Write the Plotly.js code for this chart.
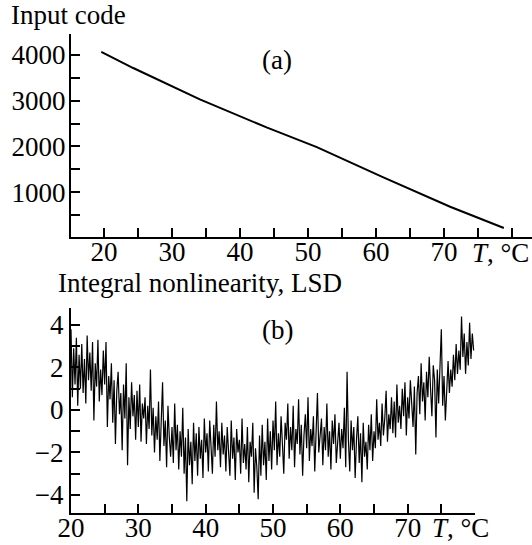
<!DOCTYPE html>
<html>
<head>
<meta charset="utf-8">
<script src="https://cdn.plot.ly/plotly-3.0.1.min.js"></script>
<style>html,body{margin:0;padding:0;background:#fff;}</style>
</head>
<body>
<div id="chart" style="width:532px;height:545px;"></div>
<script>
// (a) input code vs temperature
const tempA = [19.6, 24.3, 34.1, 44.0, 51.3, 61.0, 70.9, 78.8];
const inputCode = [4070, 3715, 3030, 2410, 1985, 1330, 680, 215];

// (b) integral nonlinearity (LSD) vs temperature
const tempB = [
20.0,20.2,20.4,20.6,20.8,21.0,21.2,21.4,21.6,21.8,22.0,22.2,22.4,22.6,22.8,23.0,23.2,23.4,23.6,23.8,
24.0,24.2,24.4,24.6,24.8,25.0,25.2,25.4,25.6,25.8,26.0,26.2,26.4,26.6,26.8,27.0,27.2,27.4,27.6,27.8,
28.0,28.2,28.4,28.6,28.8,29.0,29.2,29.4,29.6,29.8,30.0,30.2,30.4,30.6,30.8,31.0,31.2,31.4,31.6,31.8,
32.0,32.2,32.4,32.6,32.8,33.0,33.2,33.4,33.6,33.8,34.0,34.2,34.4,34.6,34.8,35.0,35.2,35.4,35.6,35.8,
36.0,36.2,36.4,36.6,36.8,37.0,37.2,37.4,37.6,37.8,38.0,38.2,38.4,38.6,38.8,39.0,39.2,39.4,39.6,39.8,
40.0,40.2,40.4,40.6,40.8,41.0,41.2,41.4,41.6,41.8,42.0,42.2,42.4,42.6,42.8,43.0,43.2,43.4,43.6,43.8,
44.0,44.2,44.4,44.6,44.8,45.0,45.2,45.4,45.6,45.8,46.0,46.2,46.4,46.6,46.8,47.0,47.2,47.4,47.6,47.8,
48.0,48.2,48.4,48.6,48.8,49.0,49.2,49.4,49.6,49.8,50.0,50.2,50.4,50.6,50.8,51.0,51.2,51.4,51.6,51.8,
52.0,52.2,52.4,52.6,52.8,53.0,53.2,53.4,53.6,53.8,54.0,54.2,54.4,54.6,54.8,55.0,55.2,55.4,55.6,55.8,
56.0,56.2,56.4,56.6,56.8,57.0,57.2,57.4,57.6,57.8,58.0,58.2,58.4,58.6,58.8,59.0,59.2,59.4,59.6,59.8,
60.0,60.2,60.4,60.6,60.8,61.0,61.2,61.4,61.6,61.8,62.0,62.2,62.4,62.6,62.8,63.0,63.2,63.4,63.6,63.8,
64.0,64.2,64.4,64.6,64.8,65.0,65.2,65.4,65.6,65.8,66.0,66.2,66.4,66.6,66.8,67.0,67.2,67.4,67.6,67.8,
68.0,68.2,68.4,68.6,68.8,69.0,69.2,69.4,69.6,69.8,70.0,70.2,70.4,70.6,70.8,71.0,71.2,71.4,71.6,71.8,
72.0,72.2,72.4,72.6,72.8,73.0,73.2,73.4,73.6,73.8,74.0,74.2,74.4,74.6,74.8,75.0,75.2,75.4,75.6,75.8,
76.0,76.2,76.4,76.6,76.8,77.0,77.2,77.4,77.6,77.8,78.0,78.2,78.4,78.6,78.8,79.0,79.2,79.4,79.6,79.8
];
const inl = [
3.8,0.6,2.9,1.2,3.4, 0.2,2.6,1.0,3.1,0.8,
2.4,0.3,3.5,1.4,2.7, 0.9,3.2,-0.5,2.2,1.1,
3.3,0.4,1.9,0.7,2.8, 1.2,3.2,-0.8,1.6,0.5,
2.2,-0.6,1.4,-1.6,0.9, 1.8,-0.2,0.8,-1.9,1.2,
-0.4,2.2,-2.6,0.6,-0.9, 1.3,-0.3,0.7,-1.4,0.9,
-0.8,1.2,-1.5,0.3,-0.4, 0.6,-1.6,0.2,-0.9,1.9,
-1.2,0.1,-2.0,-0.3,-1.4, 0.4,-2.4,-0.6,1.3,-1.7,
-0.5,-2.7,0.2,-1.3,-2.2, -0.8,-2.5,0.3,-1.9,-0.7,
-2.8,-1.0,-2.2,0.1,-3.0, -1.3,-4.3,-0.9,-2.6,-1.5,
-3.5,-0.6,-2.4,-1.1,-3.1, -0.8,-2.3,-1.4,-3.2,-0.4,
-2.0,-1.1,-2.9,-0.5,-1.8, -3.0,-0.7,-2.2,0.4,-1.9,
-1.0,-2.7,-0.6,-2.1,-1.2, -2.9,-0.8,-1.7,-3.1,-0.5,
-2.3,-1.3,-3.3,-0.9,-2.0, -1.4,-3.0,-0.4,-2.5,-1.6,
-2.8,-0.8,-3.4,-1.5,-2.2, -0.6,-3.9,-1.8,-2.7,-4.2,
-1.2,-3.1,-0.7,-2.6,-1.5, -3.3,-0.4,-2.4,-1.0,-2.8,
-0.5,-1.9,0.4,-2.6,-1.1, -2.2,-0.3,-1.6,-3.0,-0.6,
-1.4,0.3,-2.3,-0.8,-1.9, 0.2,-2.7,-0.9,-1.6,0.5,
-2.1,-0.7,-3.1,-1.2,-0.2, -1.8,0.6,-2.4,-0.9,-1.7,
-0.3,-2.9,-1.1,0.8,-2.0, -1.3,-0.4,-2.6,-0.8,-1.9,
0.3,-2.2,-1.0,-2.8,-0.5, -1.6,-0.2,-2.5,-1.2,-0.6,
-2.3,-0.9,-1.8,0.1,-2.7, 1.8,-1.4,-2.9,-0.5,-1.9,
-0.8,-3.2,-1.4,-0.3,-2.5, -1.1,-3.4,-0.6,-2.2,-1.5,
-2.8,-0.7,-1.9,-0.2,-2.4, -1.0,-1.8,0.5,-1.4,-0.6,
-1.7,0.3,-1.2,-0.4,0.9, -1.5,-0.2,-0.9,0.6,-1.1,
0.4,-1.3,1.2,-0.6,0.2, -0.9,1.0,-0.3,1.3,-1.2,
0.6,-0.4,1.4,0.1,-0.8, 1.1,-2.1,0.8,1.6,-0.2,
2.2,0.4,1.3,-0.5,1.8, 0.6,2.5,1.0,-0.3,2.1,
1.4,-1.3,1.9,0.3,2.4, 3.8,0.2,1.6,-0.5,1.2,
2.3,0.8,1.9,1.1,2.6, 1.4,3.1,1.7,2.8,1.9,
4.4,2.5,3.6,1.7,3.2, 2.1,4.1,2.4,3.6,2.8
];

const ticksA = [20,25,30,35,40,45,50,55,60,65,70,75,80];
const ticksAText = ['20','','30','','40','','50','','60','','70','',''];
const ticksCode = [500,1000,1500,2000,2500,3000,3500,4000];
const ticksCodeText = ['','1000','','2000','','3000','','4000'];
const ticksINL = [-4,-3,-2,-1,0,1,2,3,4];
const ticksINLText = ['\u22124','','\u22122','','0','','2','','4'];

const FONT = 'Liberation Serif, Times New Roman, serif';
const FS = 27;
const L = 71, R = 532, T = 34, B = 513;
const px = x => (x - L) / (R - L);
const py = y => (B - y) / (B - T);

const axisCommon = {
  showline: true, linecolor: '#000', linewidth: 2,
  ticks: 'inside', ticklen: 9, tickwidth: 2, tickcolor: '#000',
  showgrid: false, zeroline: false,
  tickfont: {family: FONT, size: FS, color: '#000'},
  fixedrange: true
};

const data = [
  {x: tempA, y: inputCode, type: 'scatter', mode: 'lines',
   line: {color: '#000', width: 2}, xaxis: 'x', yaxis: 'y', hoverinfo: 'none'},
  {x: tempB, y: inl, type: 'scatter', mode: 'lines',
   line: {color: '#000', width: 1.2}, xaxis: 'x2', yaxis: 'y2', hoverinfo: 'none'}
];

const layout = {
  width: 532, height: 545,
  margin: {l: L, r: 532 - R, t: T, b: 545 - B, pad: 0},
  paper_bgcolor: '#fff', plot_bgcolor: '#fff',
  showlegend: false,
  font: {family: FONT, size: FS, color: '#000'},
  xaxis: Object.assign({}, axisCommon, {
    domain: [0, 1], anchor: 'y', range: [15.15, 82.94],
    tickmode: 'array', tickvals: ticksA, ticktext: ticksAText, ticklabelstandoff: -10
  }),
  yaxis: Object.assign({}, axisCommon, {
    domain: [py(237), 1], anchor: 'x', range: [19, 4459],
    tickmode: 'array', tickvals: ticksCode, ticktext: ticksCodeText, ticklabelstandoff: -2
  }),
  xaxis2: Object.assign({}, axisCommon, {
    domain: [0, px(475)], anchor: 'y2', range: [20, 80],
    tickmode: 'array', tickvals: ticksA, ticktext: ticksAText, ticklabelstandoff: -10
  }),
  yaxis2: Object.assign({}, axisCommon, {
    domain: [0, py(308)], anchor: 'x2', range: [-4.85, 4.8],
    tickmode: 'array', tickvals: ticksINL, ticktext: ticksINLText, ticklabelstandoff: 0
  }),
  annotations: [
    {text: 'Input code', xref: 'paper', yref: 'paper', x: px(9), y: py(15),
     xanchor: 'left', yanchor: 'middle', showarrow: false, font: {family: FONT, size: FS}},
    {text: '(a)', xref: 'paper', yref: 'paper', x: px(277), y: py(60),
     xanchor: 'center', yanchor: 'middle', showarrow: false, font: {family: FONT, size: FS}},
    {text: '<i>T</i>, \u00b0C', xref: 'paper', yref: 'paper', x: px(531), y: py(253),
     xanchor: 'right', yanchor: 'middle', showarrow: false, font: {family: FONT, size: FS}},
    {text: 'Integral nonlinearity, LSD', xref: 'paper', yref: 'paper', x: px(56), y: py(283),
     xanchor: 'left', yanchor: 'middle', showarrow: false, font: {family: FONT, size: FS}},
    {text: '(b)', xref: 'paper', yref: 'paper', x: px(277), y: py(330),
     xanchor: 'center', yanchor: 'middle', showarrow: false, font: {family: FONT, size: FS}},
    {text: '<i>T</i>, \u00b0C', xref: 'paper', yref: 'paper', x: px(491), y: py(528),
     xanchor: 'right', yanchor: 'middle', showarrow: false, font: {family: FONT, size: FS}}
  ]
};

Plotly.newPlot('chart', data, layout, {displayModeBar: false, staticPlot: true});
</script>
</body>
</html>
